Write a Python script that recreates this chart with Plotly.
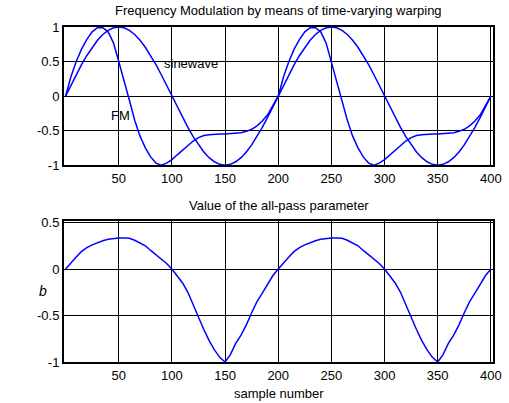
import plotly.graph_objects as go
from plotly.subplots import make_subplots

# sample numbers (every 5th sample)
samples = list(range(0, 401, 5))

sinewave = [
    0.0, 0.156, 0.309, 0.454, 0.588, 0.707, 0.809, 0.891, 0.951, 0.988,
    1.0, 0.988, 0.951, 0.891, 0.809, 0.707, 0.588, 0.454, 0.309, 0.156,
    0.0, -0.156, -0.309, -0.454, -0.588, -0.707, -0.809, -0.891, -0.951, -0.988,
    -1.0, -0.988, -0.951, -0.891, -0.809, -0.707, -0.588, -0.454, -0.309, -0.156,
    0.0, 0.156, 0.309, 0.454, 0.588, 0.707, 0.809, 0.891, 0.951, 0.988,
    1.0, 0.988, 0.951, 0.891, 0.809, 0.707, 0.588, 0.454, 0.309, 0.156,
    0.0, -0.156, -0.309, -0.454, -0.588, -0.707, -0.809, -0.891, -0.951, -0.988,
    -1.0, -0.988, -0.951, -0.891, -0.809, -0.707, -0.588, -0.454, -0.309, -0.156,
    0.0,
]

fm = [
    0.0, 0.28, 0.5, 0.68, 0.82, 0.93, 0.99, 0.99, 0.93, 0.77,
    0.5, 0.2, -0.06, -0.35, -0.58, -0.75, -0.88, -0.97, -1.0, -0.97,
    -0.92, -0.85, -0.78, -0.71, -0.65, -0.6, -0.57, -0.56, -0.55, -0.55,
    -0.55, -0.545, -0.54, -0.53, -0.51, -0.48, -0.43, -0.36, -0.27, -0.14,
    0.0, 0.28, 0.5, 0.68, 0.82, 0.93, 0.99, 0.99, 0.93, 0.77,
    0.5, 0.2, -0.06, -0.35, -0.58, -0.75, -0.88, -0.97, -1.0, -0.97,
    -0.92, -0.85, -0.78, -0.71, -0.65, -0.6, -0.57, -0.56, -0.55, -0.55,
    -0.55, -0.545, -0.54, -0.53, -0.51, -0.48, -0.43, -0.36, -0.27, -0.14,
    0.0,
]

b_param = [
    0.0, 0.07, 0.13, 0.19, 0.23, 0.26, 0.285, 0.305, 0.32, 0.33,
    0.333, 0.333, 0.33, 0.31, 0.28, 0.25, 0.2, 0.155, 0.11, 0.06,
    0.0, -0.08, -0.15, -0.25, -0.39, -0.52, -0.65, -0.77, -0.87, -0.95,
    -1.0, -0.92, -0.8, -0.71, -0.6, -0.47, -0.35, -0.26, -0.16, -0.07,
    0.0, 0.07, 0.13, 0.19, 0.23, 0.26, 0.285, 0.305, 0.32, 0.33,
    0.333, 0.333, 0.33, 0.31, 0.28, 0.25, 0.2, 0.155, 0.11, 0.06,
    0.0, -0.08, -0.15, -0.25, -0.39, -0.52, -0.65, -0.77, -0.87, -0.95,
    -1.0, -0.92, -0.8, -0.71, -0.6, -0.47, -0.35, -0.26, -0.16, -0.07,
    0.0,
]

x_ticks = [50, 100, 150, 200, 250, 300, 350, 400]
y_ticks_top = [-1, -0.5, 0, 0.5, 1]
y_ticks_bottom = [-1, -0.5, 0, 0.5]

FONT = "Liberation Sans, Arial, Helvetica, sans-serif"
BLUE = "rgb(0,0,255)"

fig = make_subplots(rows=2, cols=1, vertical_spacing=0.0)

fig.add_trace(go.Scatter(x=samples, y=sinewave, mode="lines",
                         line=dict(color=BLUE, width=1.5), showlegend=False), row=1, col=1)
fig.add_trace(go.Scatter(x=samples, y=fm, mode="lines",
                         line=dict(color=BLUE, width=1.5), showlegend=False), row=1, col=1)
fig.add_trace(go.Scatter(x=samples, y=b_param, mode="lines",
                         line=dict(color=BLUE, width=1.5), showlegend=False), row=2, col=1)

axis_common = dict(showline=True, linecolor="black", linewidth=2, mirror=True,
                   showgrid=True, gridcolor="black", gridwidth=1.4, automargin=False,
                   zeroline=False, ticks="", tickfont=dict(size=13, color="black", family=FONT))

fig.update_xaxes(range=[-1.5, 402], tickvals=x_ticks, ticktext=[str(v) for v in x_ticks],
                 **axis_common)
fig.update_yaxes(**axis_common)
fig.update_yaxes(range=[-1, 1], tickvals=y_ticks_top,
                 ticktext=["-1", "-0.5", "0", "0.5", "1"], row=1, col=1)
fig.update_yaxes(range=[-1, 0.52], tickvals=y_ticks_bottom,
                 ticktext=["-1", "-0.5", "0", "0.5"], row=2, col=1)

fig.update_layout(
    width=509, height=403, autosize=False,
    margin=dict(l=64, r=16, t=27, b=41, pad=0),
    paper_bgcolor="white", plot_bgcolor="white",
    font=dict(family=FONT, size=13, color="black"),
    xaxis=dict(domain=[0, 1]),
    yaxis=dict(domain=[0.5875, 1.0]),
    xaxis2=dict(domain=[0, 1]),
    yaxis2=dict(domain=[0.0, 0.4218]),
)

annotations = [
    dict(text="Frequency Modulation by means of time-varying warping", xref="paper", yref="paper",
         x=0.5, y=1.0, yshift=17, xanchor="center", yanchor="middle", showarrow=False,
         font=dict(size=13)),
    dict(text="Value of the all-pass parameter", xref="paper", yref="paper",
         x=0.5, y=0.4218, yshift=15, xanchor="center", yanchor="middle", showarrow=False,
         font=dict(size=13)),
    dict(text="sample number", xref="paper", yref="paper",
         x=0.5, y=0, yshift=-31, xanchor="center", yanchor="middle", showarrow=False,
         font=dict(size=13)),
    dict(text="<i>b</i>", xref="paper", yref="paper",
         x=0, xshift=-21, y=0.212, xanchor="center", yanchor="middle", showarrow=False,
         font=dict(size=14)),
    dict(text="sinewave", xref="x", yref="y", x=90.5, y=0.47,
         xanchor="left", yanchor="middle", showarrow=False, font=dict(size=13)),
    dict(text="FM", xref="x", yref="y", x=40.6, y=-0.28,
         xanchor="left", yanchor="middle", showarrow=False, font=dict(size=13)),
]
fig.update_layout(annotations=annotations)

# remove the default page margin so the 509x403 figure fills the window exactly
fig.write_html(
    "out.html",
    config=dict(displayModeBar=False, responsive=False),
    post_script="document.body.style.margin='0';document.body.style.overflow='hidden';",
)
